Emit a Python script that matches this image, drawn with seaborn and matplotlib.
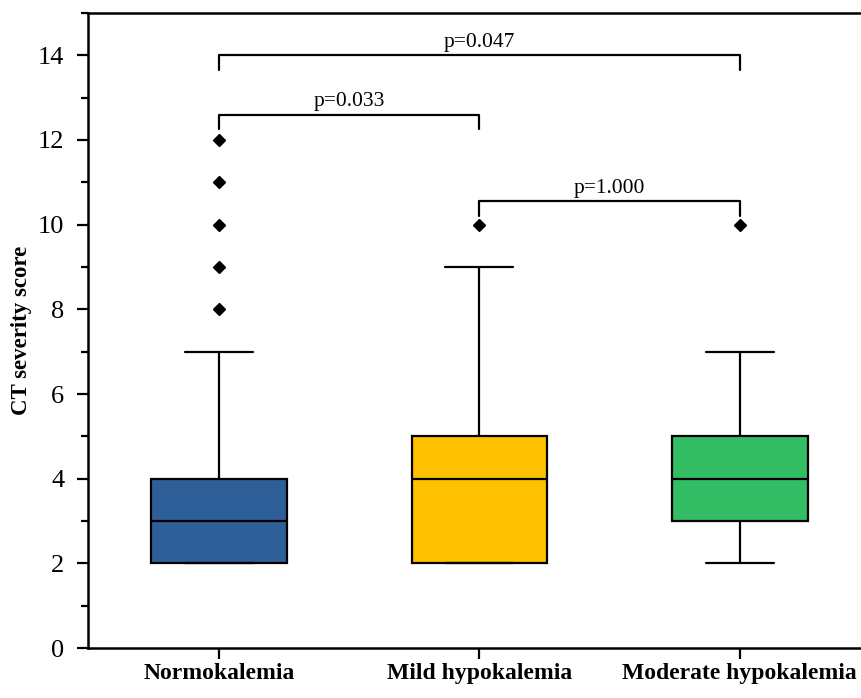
import pandas as pd
import matplotlib
matplotlib.use("Agg")
import matplotlib.pyplot as plt
from matplotlib.ticker import MultipleLocator
import seaborn as sns

# CT severity scores per patient group
groups = ["Normokalemia", "Mild hypokalemia", "Moderate hypokalemia"]
normo_scores = [2, 2, 2, 2, 2, 2, 2, 2, 2, 3, 3, 3, 3, 3, 3, 3, 3,
                4, 4, 4, 4, 4, 4, 4, 4, 5, 6, 7, 8, 9, 10, 11, 12]
mild_scores = [2, 2, 2, 2, 2, 2, 2, 2, 2, 3, 3, 3, 3, 4, 4, 4, 4,
               5, 5, 5, 5, 5, 5, 5, 5, 6, 6, 7, 7, 8, 8, 9, 10]
moderate_scores = [2, 2, 3, 3, 3, 4, 4, 4, 4, 5, 5, 5, 5, 6, 6, 7, 10]
colors = ["#2E5F98", "#FFC000", "#33BD64"]

# pairwise comparisons
pairs = [(0, 2), (0, 1), (1, 2)]
bracket_y = [14.0, 12.6, 10.55]
p_labels = ["p=0.047", "p=0.033", "p=1.000"]

df = pd.concat([
    pd.DataFrame({"group": g, "score": s})
    for g, s in zip(groups, [normo_scores, mild_scores, moderate_scores])
])

sns.set_style("ticks")
plt.rcParams["font.family"] = ["Liberation Serif", "DejaVu Serif"]
plt.rcParams.update({
    "axes.edgecolor": "black",
    "xtick.color": "black",
    "ytick.color": "black",
    "text.color": "black",
    "axes.labelcolor": "black",
})

fig = plt.figure(figsize=(8.61, 6.98), dpi=100)
ax = fig.add_axes([0.102, 0.0716, 0.898, 0.9098])

sns.boxplot(data=df, x="group", y="score", hue="group", order=groups,
            palette=colors, legend=False, width=0.52, linewidth=1.6,
            linecolor="black", saturation=1,
            flierprops=dict(marker="D", markersize=6.5, markerfacecolor="black",
                            markeredgecolor="black"),
            ax=ax)

# significance brackets
drop = 0.35
for (a, b), y, lab in zip(pairs, bracket_y, p_labels):
    ax.plot([a, a, b, b], [y - drop, y, y, y - drop], color="black", lw=1.6)
    ax.text((a + b) / 2, y + 0.08, lab, ha="center", va="bottom", fontsize=15.5)

ax.set_ylim(0, 15)
ax.set_xlim(-0.503, 2.465)
ax.yaxis.set_major_locator(MultipleLocator(2))
ax.yaxis.set_minor_locator(MultipleLocator(1))
ax.set_xlabel("")
ax.set_ylabel("CT severity score", fontsize=16.5, fontweight="bold", labelpad=4)
ax.tick_params(axis="both", which="major", direction="out", length=8, width=1.6)
ax.tick_params(axis="y", which="major", labelsize=19, pad=9)
ax.tick_params(axis="y", which="minor", direction="out", length=5, width=1.6)
ax.tick_params(axis="x", which="major", labelsize=17, pad=3)
for lbl in ax.get_xticklabels():
    lbl.set_fontweight("bold")

sns.despine(ax=ax, top=False, right=True)
for side in ["left", "bottom", "top"]:
    ax.spines[side].set_linewidth(1.8)

fig.savefig("out.png", dpi=100)
